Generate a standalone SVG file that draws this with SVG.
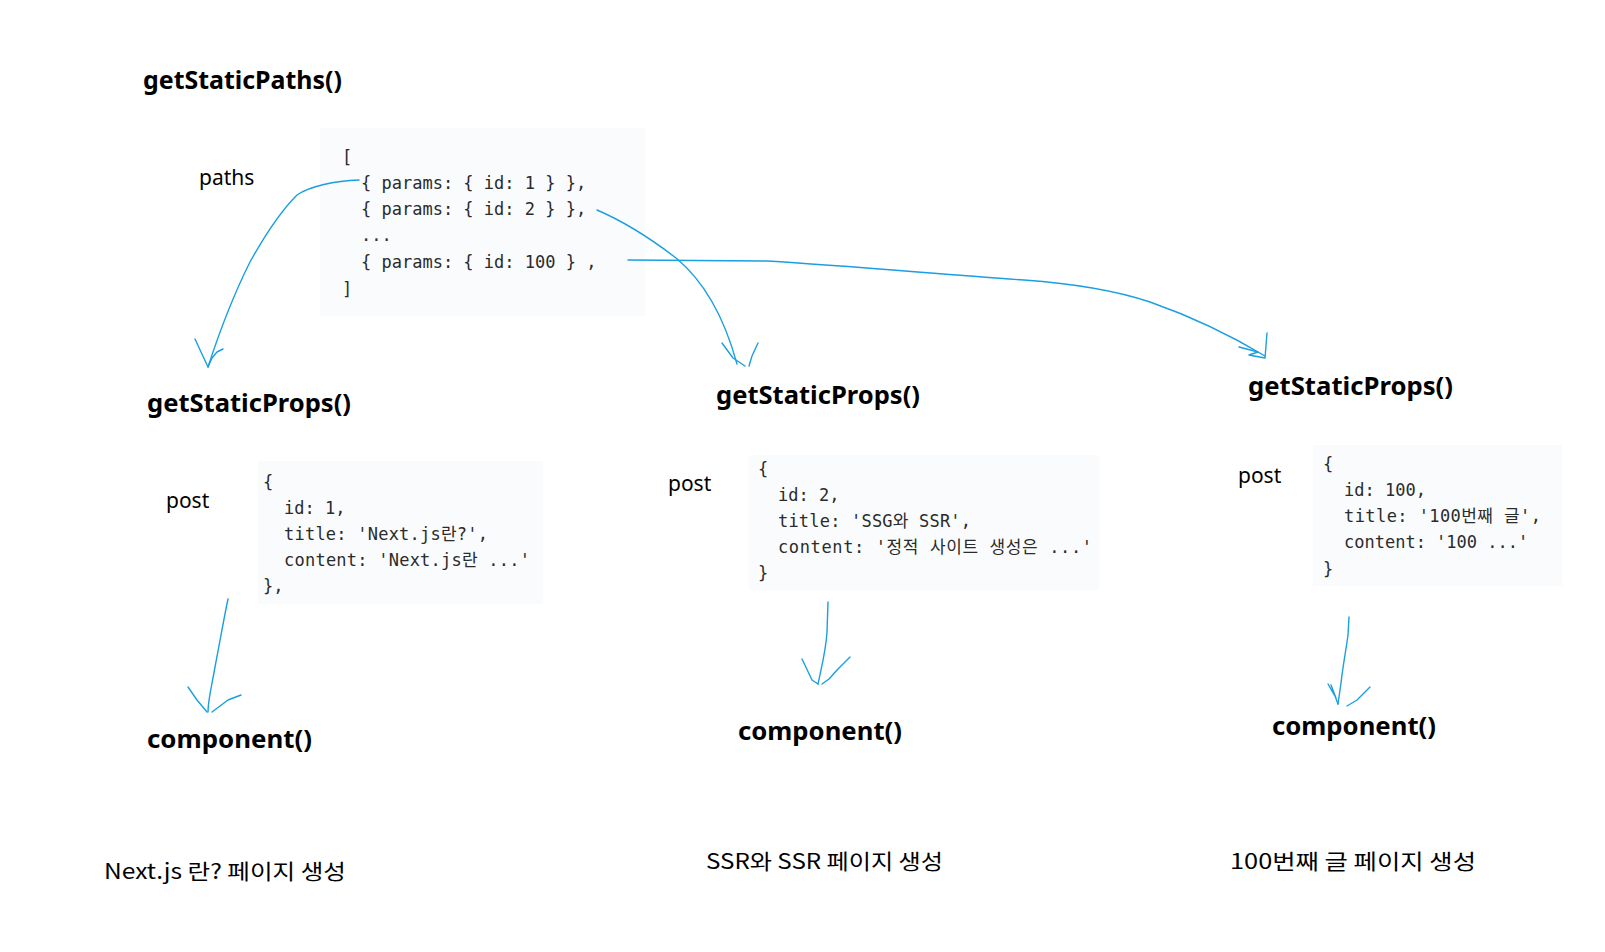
<svg xmlns="http://www.w3.org/2000/svg" width="1605" height="952" viewBox="0 0 1605 952">
<style>
.h{font-family:"Noto Sans","Noto Sans CJK KR",sans-serif;font-weight:bold;font-size:25px;fill:#000}
.l{font-family:"Noto Sans","Noto Sans CJK KR",sans-serif;font-size:21px;fill:#000}
.k{font-family:"Noto Sans CJK KR","Noto Sans",sans-serif;font-size:21px;fill:#000}
.c{font-family:"DejaVu Sans Mono","Noto Sans CJK KR",monospace;font-size:17px;fill:#2b2b2b}
.bg{fill:#f9fbfd}
.w{fill:none;stroke:#1a9fe0;stroke-width:1.4;stroke-linecap:round;stroke-linejoin:round}
</style>
<rect width="1605" height="952" fill="#fff"/>

<g id="getStaticPaths">
<text class="h" x="143" y="89" textLength="199" lengthAdjust="spacingAndGlyphs">getStaticPaths()</text>
<text class="l" x="199" y="185">paths</text>
<rect class="bg" x="320" y="128" width="325" height="188"/>
<text class="c" xml:space="preserve" x="342" y="163">[</text>
<text class="c" xml:space="preserve" x="361" y="189">{ params: { id: 1 } },</text>
<text class="c" xml:space="preserve" x="361" y="215">{ params: { id: 2 } },</text>
<text class="c" xml:space="preserve" x="361" y="241">...</text>
<text class="c" xml:space="preserve" x="361" y="268">{ params: { id: 100 } ,</text>
<text class="c" xml:space="preserve" x="342" y="295">]</text>
</g>

<g id="props1">
<text class="h" x="147" y="412" textLength="204" lengthAdjust="spacingAndGlyphs">getStaticProps()</text>
<text class="l" x="166" y="508">post</text>
<rect class="bg" x="258" y="461" width="285" height="143"/>
<text class="c" xml:space="preserve" x="263" y="488">{</text>
<text class="c" xml:space="preserve" x="284" y="514">id: 1,</text>
<text class="c" xml:space="preserve" x="284" y="540" textLength="204" lengthAdjust="spacing">title: 'Next.js란?',</text>
<text class="c" xml:space="preserve" x="284" y="566" textLength="246" lengthAdjust="spacing">content: 'Next.js란 ...'</text>
<text class="c" xml:space="preserve" x="263" y="592">},</text>
</g>

<g id="props2">
<text class="h" x="716" y="404" textLength="204" lengthAdjust="spacingAndGlyphs">getStaticProps()</text>
<text class="l" x="668" y="491">post</text>
<rect class="bg" x="749" y="455" width="350" height="135"/>
<text class="c" xml:space="preserve" x="758" y="475">{</text>
<text class="c" xml:space="preserve" x="778" y="501">id: 2,</text>
<text class="c" xml:space="preserve" x="778" y="527" textLength="193" lengthAdjust="spacing">title: 'SSG와 SSR',</text>
<text class="c" xml:space="preserve" x="778" y="553" textLength="314" lengthAdjust="spacing">content: '정적 사이트 생성은 ...'</text>
<text class="c" xml:space="preserve" x="758" y="579">}</text>
</g>

<g id="props3">
<text class="h" x="1248" y="395" textLength="205" lengthAdjust="spacingAndGlyphs">getStaticProps()</text>
<text class="l" x="1238" y="483">post</text>
<rect class="bg" x="1313" y="445" width="249" height="141"/>
<text class="c" xml:space="preserve" x="1323" y="470">{</text>
<text class="c" xml:space="preserve" x="1344" y="496">id: 100,</text>
<text class="c" xml:space="preserve" x="1344" y="522" textLength="197" lengthAdjust="spacing">title: '100번째 글',</text>
<text class="c" xml:space="preserve" x="1344" y="548">content: '100 ...'</text>
<text class="c" xml:space="preserve" x="1323" y="575">}</text>
</g>

<g id="component1">
<text class="h" x="147" y="748" textLength="165" lengthAdjust="spacingAndGlyphs">component()</text>
<text class="k" x="104" y="879" textLength="242" lengthAdjust="spacingAndGlyphs">Next.js 란? 페이지 생성</text>
</g>
<g id="component2">
<text class="h" x="738" y="740" textLength="164" lengthAdjust="spacingAndGlyphs">component()</text>
<text class="k" x="706" y="869" textLength="237" lengthAdjust="spacingAndGlyphs">SSR와 SSR 페이지 생성</text>
</g>
<g id="component3">
<text class="h" x="1272" y="735" textLength="164" lengthAdjust="spacingAndGlyphs">component()</text>
<text class="k" x="1230" y="869" textLength="246" lengthAdjust="spacingAndGlyphs">100번째 글 페이지 생성</text>
</g>

<g id="connectors">
<path class="w" d="M359,180 C335,181 310,186 297,195 C282,210 265,235 250,262 C235,292 220,330 208,367"/>
<path class="w" d="M195,339 L201,352 L208,367 M223,349 L217,352 L212,358 L208,367"/>

<path class="w" d="M597,210 C625,222 650,238 676,258 C705,282 725,320 737,364"/>
<path class="w" d="M722,343 L733,358 L745,366 M758,343 L752,356 L749,366"/>

<path class="w" d="M628,260 L768,261 C850,266 950,275 1024,280 C1080,284 1120,292 1150,302 C1190,316 1225,332 1265,356"/>
<path class="w" d="M1239,347 L1258,352 L1249,355 L1265,358 M1267,333 L1265,358"/>

<path class="w" d="M228,599 C225,613 222,630 215,667 C211,690 208,700 208,712"/>
<path class="w" d="M188,687 L197,700 L207,712 M241,695 L228,700 L220,706 L212,712"/>

<path class="w" d="M828,602 L827,632 C826,650 822,665 818,684"/>
<path class="w" d="M802,659 L812,680 L818,684 M850,657 L838,669 L829,679 L822,684"/>

<path class="w" d="M1349,617 L1348,635 C1346,650 1343,665 1341,683 L1338,704"/>
<path class="w" d="M1328,684 L1336,698 L1331,685 L1338,704 M1370,687 L1357,700 L1347,706"/>
</g>
</svg>
